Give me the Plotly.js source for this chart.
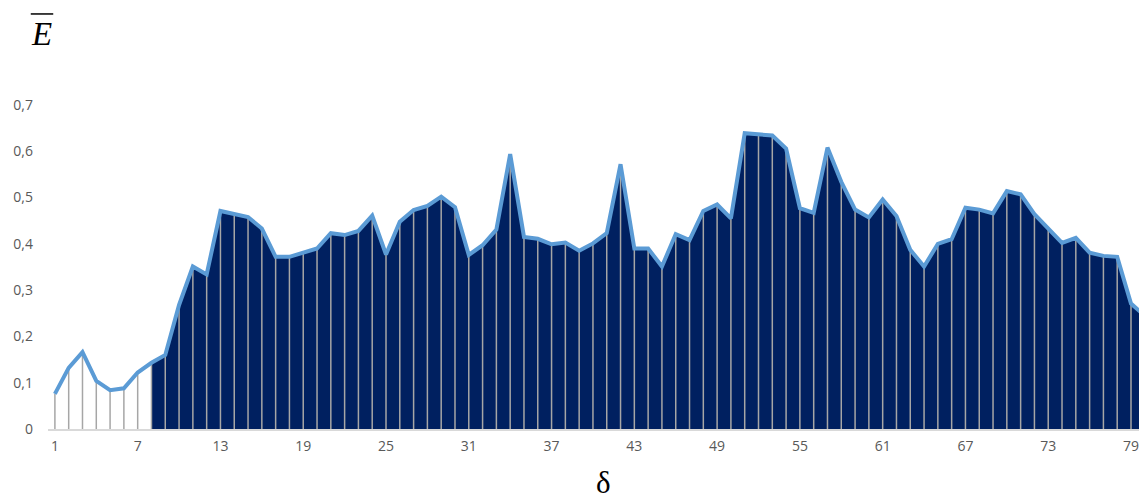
<!DOCTYPE html>
<html>
<head>
<meta charset="utf-8">
<script src="https://cdn.plot.ly/plotly-3.0.1.min.js"></script>
<style>
  html, body { margin: 0; padding: 0; background: #ffffff; }
  #chart { width: 1139px; height: 497px; }
</style>
</head>
<body>
<div id="chart"></div>
<script>
// Window size delta and the averaged value E-bar for each delta
const delta = [1, 2, 3, 4, 5, 6, 7, 8, 9, 10,
  11, 12, 13, 14, 15, 16, 17, 18, 19, 20,
  21, 22, 23, 24, 25, 26, 27, 28, 29, 30,
  31, 32, 33, 34, 35, 36, 37, 38, 39, 40,
  41, 42, 43, 44, 45, 46, 47, 48, 49, 50,
  51, 52, 53, 54, 55, 56, 57, 58, 59, 60,
  61, 62, 63, 64, 65, 66, 67, 68, 69, 70,
  71, 72, 73, 74, 75, 76, 77, 78, 79, 80];

const eBar = [0.076, 0.132, 0.166, 0.104, 0.084, 0.088, 0.122, 0.143, 0.160, 0.268,
  0.351, 0.334, 0.471, 0.464, 0.458, 0.433, 0.372, 0.372, 0.381, 0.390,
  0.423, 0.419, 0.428, 0.461, 0.377, 0.448, 0.473, 0.482, 0.502, 0.479,
  0.376, 0.397, 0.431, 0.594, 0.415, 0.411, 0.399, 0.403, 0.385, 0.401,
  0.423, 0.572, 0.390, 0.390, 0.351, 0.421, 0.408, 0.471, 0.485, 0.455,
  0.639, 0.636, 0.634, 0.606, 0.477, 0.467, 0.608, 0.534, 0.474, 0.457,
  0.496, 0.460, 0.387, 0.351, 0.400, 0.410, 0.478, 0.474, 0.466, 0.514,
  0.507, 0.464, 0.433, 0.402, 0.413, 0.381, 0.374, 0.372, 0.271, 0.245];

// Shaded region begins at this delta
const shadeFrom = 8;

// x-axis tick labels
const xTicks = [1, 7, 13, 19, 25, 31, 37, 43, 49, 55, 61, 67, 73, 79];

// Shaded area
const shadeX = [], shadeY = [];
delta.forEach((d, i) => { if (d >= shadeFrom) { shadeX.push(d); shadeY.push(eBar[i]); } });

// Vertical drop lines from each point down to zero
const dropX = [], dropY = [];
delta.forEach((d, i) => { dropX.push(d, d, null); dropY.push(0, eBar[i], null); });

const traces = [
  {
    x: shadeX, y: shadeY, type: 'scatter', mode: 'none',
    fill: 'tozeroy', fillcolor: '#002060', hoverinfo: 'skip', showlegend: false
  },
  {
    x: dropX, y: dropY, type: 'scatter', mode: 'lines',
    line: { color: '#a6a6a6', width: 1.5 }, hoverinfo: 'skip', showlegend: false
  },
  {
    x: delta, y: eBar, type: 'scatter', mode: 'lines',
    line: { color: '#5b9bd5', width: 4, shape: 'linear' }, showlegend: false
  }
];

const tickFont = { family: 'Open Sans, Liberation Sans, sans-serif', size: 14, color: '#595959' };

const layout = {
  width: 1139, height: 497,
  margin: { l: 48, r: 0, t: 105, b: 68, pad: 0 },
  paper_bgcolor: '#ffffff', plot_bgcolor: '#ffffff',
  separators: ', ',
  showlegend: false,
  xaxis: {
    range: [0.5, 79.58],
    tickmode: 'array', tickvals: xTicks, ticktext: xTicks.map(String),
    showgrid: false, zeroline: false,
    showline: true, linecolor: '#d9d9d9', linewidth: 1.5,
    ticks: '', tickfont: tickFont, ticklabelstandoff: 4,
    ticklabeloverflow: 'allow'
  },
  yaxis: {
    range: [0, 0.7], dtick: 0.1, tick0: 0,
    showgrid: false, zeroline: false, showline: false,
    ticks: '', tickfont: tickFont, ticklabelstandoff: 14
  },
  annotations: [
    {
      text: '<i>E</i>', xref: 'paper', yref: 'paper',
      x: -0.0058, y: 1.22, xanchor: 'center', yanchor: 'middle', showarrow: false,
      font: { family: 'Liberation Serif, Times New Roman, serif', size: 33, color: '#000000' }
    },
    {
      text: 'δ', xref: 'x', yref: 'paper',
      x: 40.8, y: -0.106, xanchor: 'center', yanchor: 'top', showarrow: false,
      font: { family: 'Liberation Serif, Times New Roman, serif', size: 31, color: '#000000' }
    }
  ],
  shapes: [
    {
      type: 'line', xref: 'paper', yref: 'paper',
      x0: -0.0158, x1: 0.0048, y0: 1.281, y1: 1.281,
      line: { color: '#000000', width: 1.5 }
    }
  ]
};

Plotly.newPlot('chart', traces, layout, { displayModeBar: false, staticPlot: true });
</script>
</body>
</html>
